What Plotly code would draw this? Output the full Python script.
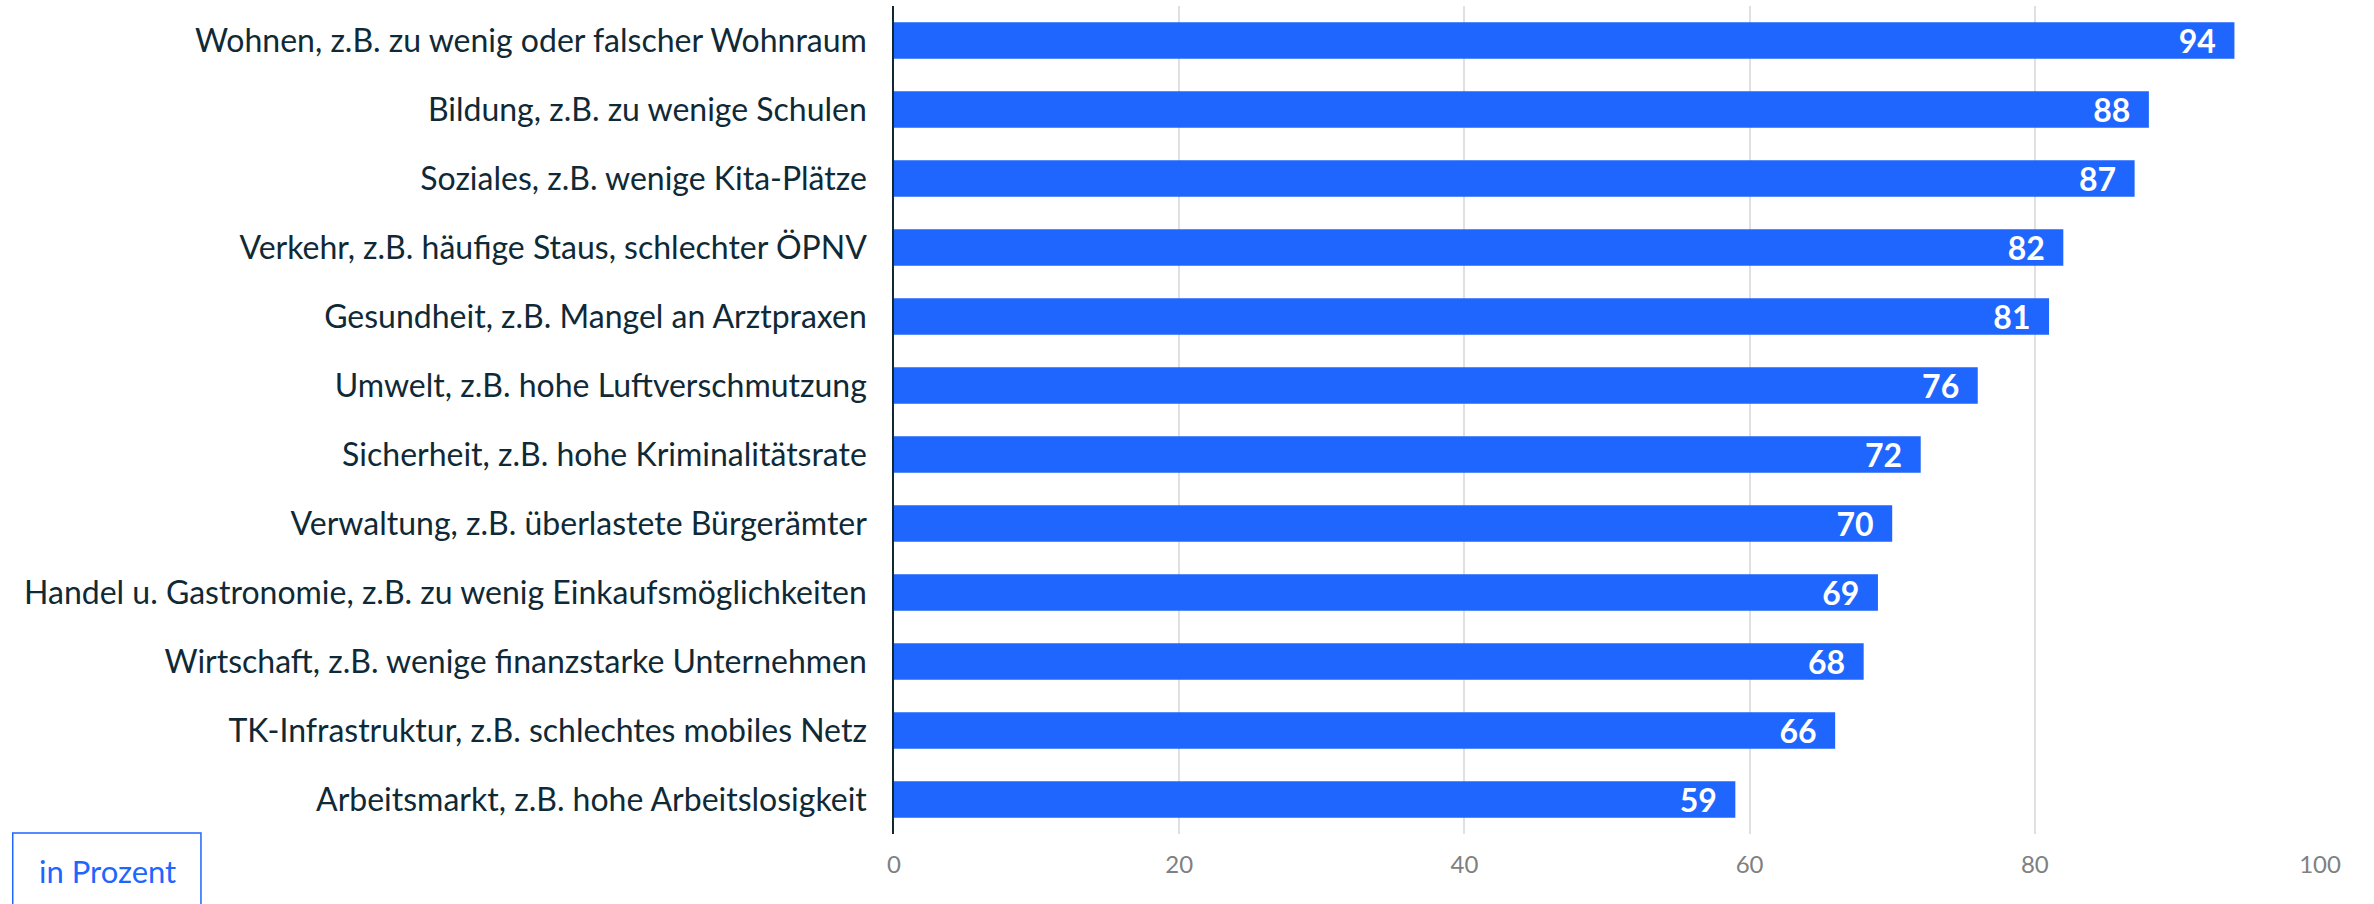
import plotly.graph_objects as go

CATEGORIES = [
    "Wohnen, z.B. zu wenig oder falscher Wohnraum",
    "Bildung, z.B. zu wenige Schulen",
    "Soziales, z.B. wenige Kita-Plätze",
    "Verkehr, z.B. häufige Staus, schlechter ÖPNV",
    "Gesundheit, z.B. Mangel an Arztpraxen",
    "Umwelt, z.B. hohe Luftverschmutzung",
    "Sicherheit, z.B. hohe Kriminalitätsrate",
    "Verwaltung, z.B. überlastete Bürgerämter",
    "Handel u. Gastronomie, z.B. zu wenig Einkaufsmöglichkeiten",
    "Wirtschaft, z.B. wenige finanzstarke Unternehmen",
    "TK-Infrastruktur, z.B. schlechtes mobiles Netz",
    "Arbeitsmarkt, z.B. hohe Arbeitslosigkeit",
]
VALUES = [94, 88, 87, 82, 81, 76, 72, 70, 69, 68, 66, 59]
X_TICKS = [0, 20, 40, 60, 80, 100]
UNIT_LABEL = "in Prozent"

BLUE = "#1f66ff"
DARK = "#0f2a36"
GREY = "#808080"
FONT = "Lato, sans-serif"

fig = go.Figure(go.Bar(
    x=VALUES,
    y=CATEGORIES,
    orientation="h",
    marker=dict(color=BLUE, line=dict(width=0)),
    text=[f"{v}\u00a0\u00a0" for v in VALUES],
    textposition="inside",
    insidetextanchor="end",
    constraintext="none",
    textfont=dict(family=FONT, size=32, color="white", weight="bold"),
    cliponaxis=False,
))

fig.update_layout(
    width=2374,
    height=904,
    plot_bgcolor="white",
    paper_bgcolor="white",
    margin=dict(l=894, r=54, t=6, b=70),
    bargap=0.474,
    showlegend=False,
    font=dict(family=FONT),
    xaxis=dict(
        range=[0, 100],
        tickvals=X_TICKS,
        showgrid=True,
        gridcolor="#e0e0e0",
        gridwidth=1.5,
        zeroline=False,
        showline=False,
        ticks="",
        tickfont=dict(family=FONT, size=24, color=GREY),
        ticklabelstandoff=14,
    ),
    yaxis=dict(
        autorange="reversed",
        showline=True,
        linecolor=DARK,
        linewidth=1.5,
        ticks="",
        tickfont=dict(family=FONT, size=32, color=DARK),
        ticklabelstandoff=19,
    ),
)

# unit box bottom-left
fig.add_shape(
    type="rect", xref="paper", yref="paper",
    x0=-0.618, x1=-0.486, y0=-0.1, y1=0.0012,
    line=dict(color=BLUE, width=1.5),
    fillcolor="rgba(0,0,0,0)",
)
fig.add_annotation(
    text=UNIT_LABEL, xref="paper", yref="paper",
    x=-0.5515, y=-0.0447, xanchor="center", yanchor="middle",
    showarrow=False,
    font=dict(family=FONT, size=31, color=BLUE),
)

fig.write_html(
    "out.html",
    config={"displayModeBar": False},
    post_script="document.body.style.margin='0';",
)
